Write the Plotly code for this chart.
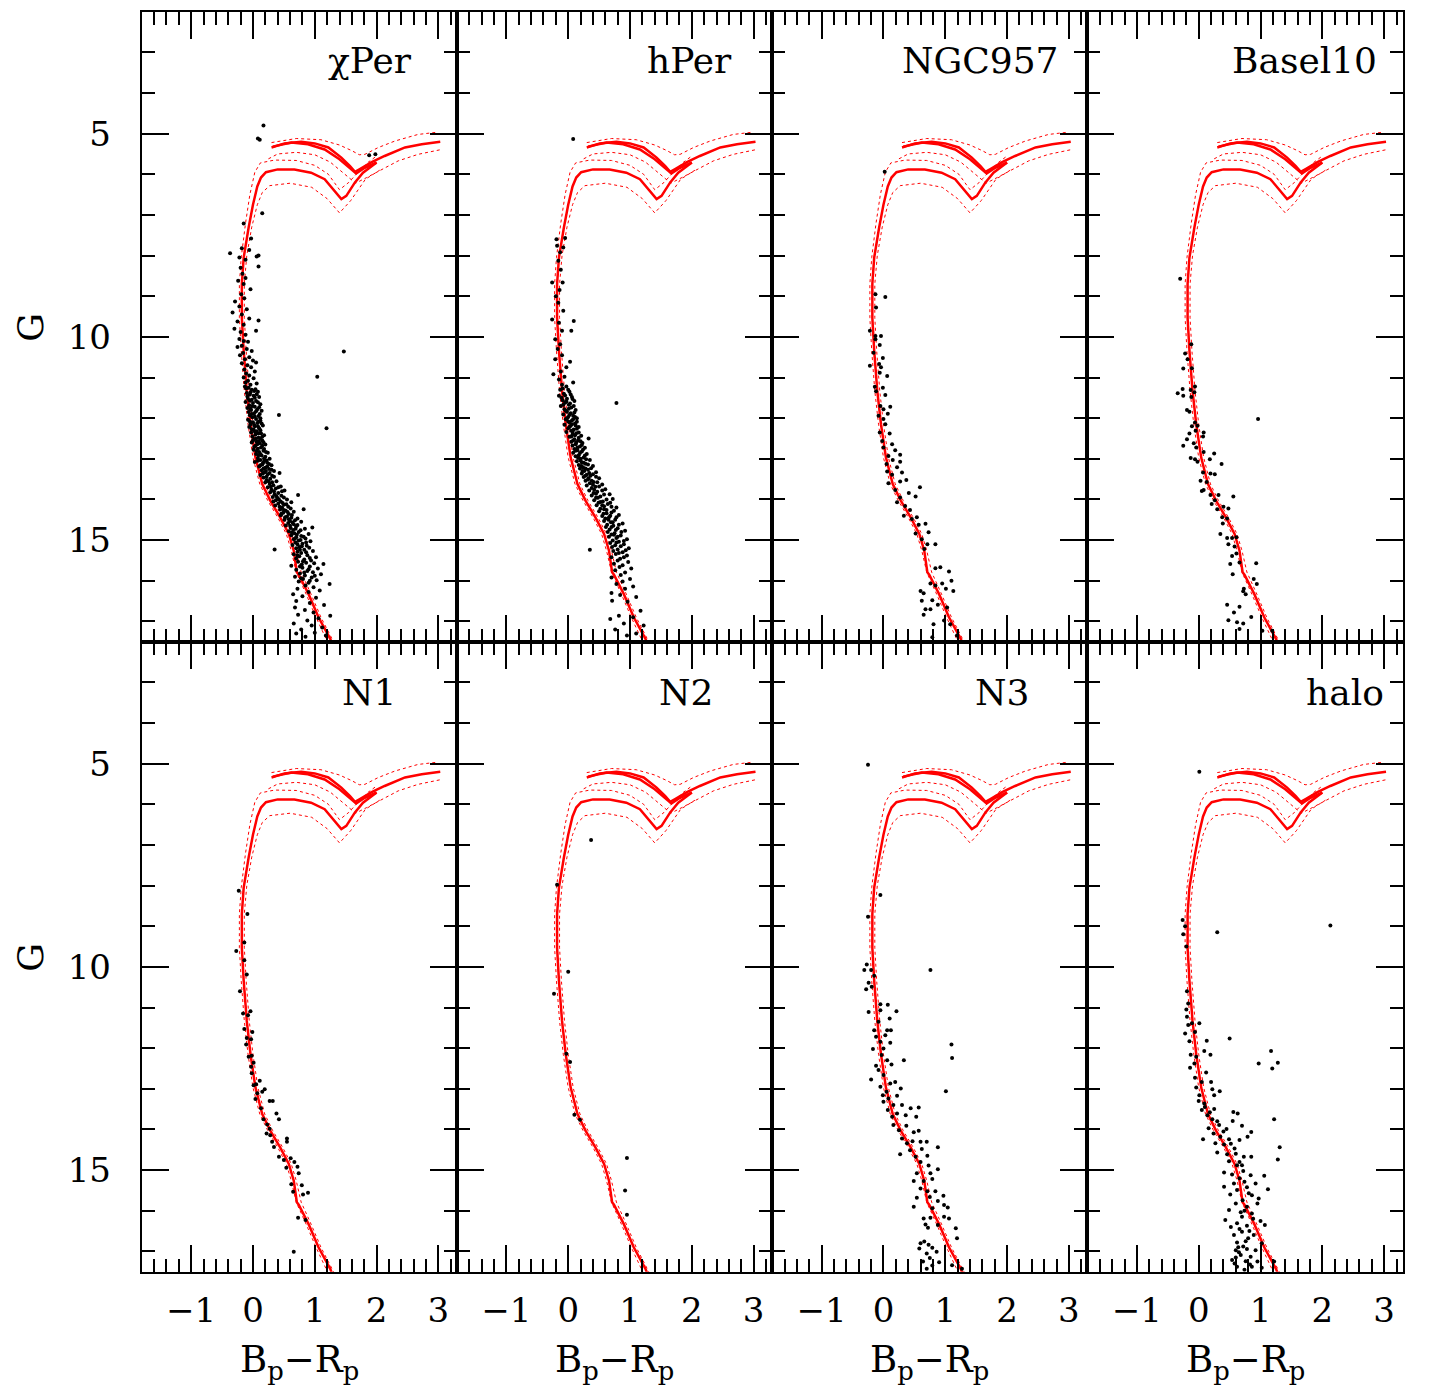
import plotly.graph_objects as go

# ---------------- DATA ----------------
panel_names = ["χPer", "hPer", "NGC957", "Basel10", "N1", "N2", "N3", "halo"]
label_right_x = [2.60, 2.68, 2.87, 2.91, 2.34, 2.37, 2.38, 3.03]
label_y = [3.2, 3.2, 3.2, 3.2, 3.25, 3.25, 3.25, 3.25]

# Isochrone (solid): main sequence + lower loop
iso_a_x = [1.28, 1.25, 1.06, 0.90, 0.74, 0.71, 0.66, 0.58, 0.44, 0.28, 0.15, 0.04, -0.04, -0.10, -0.15, -0.18,
           -0.18, -0.15, -0.07, 0.00, 0.07, 0.13, 0.21, 0.40, 0.67, 0.94, 1.16, 1.32, 1.43, 1.51, 1.65, 1.78, 1.92, 2.00]
iso_a_g = [17.55, 17.43, 16.90, 16.33, 15.85, 15.79, 15.26, 14.85, 14.44, 14.03, 13.62, 12.97, 12.15, 11.33, 10.34, 9.53,
           8.70, 8.05, 7.31, 6.75, 6.30, 6.08, 5.95, 5.88, 5.88, 5.96, 6.12, 6.41, 6.61, 6.53, 6.20, 5.96, 5.80, 5.71]
# Isochrone (solid): upper branch and its twin
iso_b_x = [0.30, 0.51, 0.78, 1.00, 1.22, 1.43, 1.57, 1.65, 1.73, 1.92, 2.13, 2.46, 2.73, 3.03]
iso_b_g = [5.34, 5.24, 5.20, 5.24, 5.34, 5.59, 5.80, 5.94, 5.87, 5.70, 5.55, 5.34, 5.26, 5.20]
iso_c_x = [0.32, 0.62, 0.89, 1.16, 1.40, 1.59, 1.67, 1.81, 2.00]
iso_c_g = [5.32, 5.22, 5.26, 5.39, 5.63, 5.87, 5.98, 5.84, 5.71]
# Isochrone envelopes (dashed)
dash_a_up_x = [1.22, 1.02, 0.86, 0.70, 0.62, 0.54, 0.40, 0.24, 0.11, 0.00, -0.08, -0.14, -0.19, -0.22, -0.22, -0.19,
               -0.12, -0.05, 0.03, 0.12, 0.35, 0.70, 1.00, 1.22, 1.40, 1.55, 1.70, 1.85, 2.00]
dash_a_up_g = [17.55, 16.90, 16.33, 15.79, 15.26, 14.85, 14.44, 14.03, 13.62, 12.97, 12.15, 11.33, 10.34, 9.53, 8.70, 8.05,
               7.20, 6.50, 5.95, 5.72, 5.65, 5.66, 5.78, 6.00, 6.38, 6.20, 5.95, 5.72, 5.55]
dash_a_lo_x = [1.32, 1.10, 0.94, 0.78, 0.70, 0.62, 0.48, 0.32, 0.19, 0.08, 0.00, -0.06, -0.11, -0.14, -0.14, -0.10,
               -0.02, 0.07, 0.15, 0.27, 0.60, 0.95, 1.20, 1.40, 1.58, 1.82, 2.05]
dash_a_lo_g = [17.55, 16.90, 16.33, 15.79, 15.26, 14.85, 14.44, 14.03, 13.62, 12.97, 12.15, 11.33, 10.34, 9.53, 8.70, 8.00,
               7.30, 6.75, 6.45, 6.28, 6.22, 6.32, 6.60, 6.95, 6.65, 6.12, 5.90]
dash_b_lo_x = [0.25, 0.40, 0.70, 1.00, 1.25, 1.48, 1.66, 1.84, 2.03, 2.35, 2.67, 3.05]
dash_b_lo_g = [5.62, 5.50, 5.46, 5.52, 5.70, 6.00, 6.22, 6.08, 5.92, 5.67, 5.51, 5.39]
dash_b_up_x = [0.30, 0.70, 1.10, 1.40, 1.60, 1.72, 1.81, 2.03, 2.30, 2.67, 2.95]
dash_b_up_g = [5.22, 5.12, 5.15, 5.28, 5.42, 5.52, 5.51, 5.34, 5.18, 5.02, 4.97]

chiper_stars = [
    (0.17, 4.80), (0.08, 5.12), (0.11, 5.15), (1.88, 5.53), (1.98, 5.51), (0.15, 6.96), (-0.15, 7.21), (-0.03, 7.58),
    (-0.37, 7.94), (-0.18, 7.82), (-0.06, 7.86), (0.06, 8.02), (0.09, 8.00), (-0.22, 8.05), (-0.12, 8.10),
    (-0.20, 8.30), (-0.17, 8.45), (-0.12, 8.55), (0.09, 8.27), (-0.24, 8.62), (-0.15, 8.70), (-0.04, 8.83), (-0.19, 8.95),
    (-0.29, 9.13), (-0.14, 9.05), (-0.22, 9.25), (-0.10, 9.32), (-0.33, 9.40), (-0.18, 9.45), (-0.06, 9.55), (0.09, 9.60),
    (-0.25, 9.62), (-0.15, 9.70), (0.05, 9.85), (-0.20, 9.88), (-0.12, 9.95), (-0.30, 9.80),
    (-0.22, 10.05), (-0.15, 10.10), (-0.08, 10.12), (-0.18, 10.22), (-0.25, 10.25), (-0.10, 10.30), (-0.02, 10.35),
    (1.47, 10.36), (-0.16, 10.40), (-0.21, 10.45), (-0.06, 10.50), (-0.13, 10.55), (0.00, 10.58), (0.05, 10.63),
    (-0.18, 10.65), (-0.09, 10.70), (-0.03, 10.75), (-0.14, 10.80), (0.03, 10.85), (-0.11, 10.90), (-0.06, 10.95),
    (1.04, 10.98), (-0.15, 11.00), (0.01, 11.02), (-0.08, 11.08), (-0.12, 11.12), (0.06, 11.15), (-0.04, 11.18),
    (-0.13, 11.22), (-0.07, 11.25), (0.04, 11.29), (-0.02, 11.30), (0.08, 11.35), (-0.10, 11.38), (-0.05, 11.42),
    (0.01, 11.45), (0.10, 11.48), (-0.08, 11.52), (-0.02, 11.55), (0.05, 11.58), (-0.12, 11.60), (0.00, 11.63),
    (0.12, 11.66), (-0.06, 11.68), (0.03, 11.72), (-0.09, 11.75), (0.07, 11.78), (-0.03, 11.80), (0.14, 11.82),
    (-0.07, 11.85), (0.02, 11.88), (0.42, 11.92), (-0.05, 11.93), (0.09, 11.95), (-0.01, 11.98), (0.05, 12.02),
    (-0.08, 12.04), (0.12, 12.06), (0.00, 12.10), (0.07, 12.12), (-0.04, 12.15), (0.16, 12.18), (0.03, 12.20),
    (-0.06, 12.22), (0.10, 12.25), (1.19, 12.25), (0.01, 12.28), (0.06, 12.32), (-0.03, 12.35), (0.13, 12.37),
    (0.04, 12.40), (0.18, 12.42), (-0.01, 12.45), (0.09, 12.48), (0.02, 12.52), (0.15, 12.55), (0.06, 12.58),
    (-0.02, 12.60), (0.11, 12.62), (0.20, 12.65), (0.04, 12.68), (0.13, 12.72), (0.08, 12.75), (0.01, 12.78),
    (0.17, 12.80), (0.10, 12.83), (0.24, 12.85), (0.05, 12.88), (0.14, 12.92), (0.20, 12.95), (0.08, 12.98),
    (0.27, 13.00), (0.12, 13.03), (0.18, 13.06), (0.03, 13.08), (0.23, 13.10), (0.15, 13.14), (0.30, 13.16),
    (0.10, 13.19), (0.20, 13.22), (0.26, 13.25), (0.14, 13.28), (0.34, 13.30), (0.43, 13.35), (0.19, 13.33),
    (0.24, 13.38), (0.12, 13.40), (0.31, 13.42), (0.17, 13.46), (0.28, 13.49), (0.22, 13.52), (0.38, 13.55),
    (0.20, 13.58), (0.27, 13.62), (0.33, 13.65), (0.45, 13.68), (0.24, 13.70), (0.37, 13.73), (0.30, 13.76),
    (0.51, 13.78), (0.28, 13.82), (0.41, 13.84), (0.35, 13.87), (0.73, 13.89), (0.46, 13.91), (0.32, 13.94),
    (0.40, 13.97), (0.55, 14.00), (0.37, 14.02), (0.45, 14.05), (0.62, 14.07), (0.41, 14.10), (0.50, 14.13),
    (0.36, 14.15), (0.57, 14.18), (0.47, 14.20), (0.82, 14.24), (0.44, 14.25), (0.53, 14.28), (0.66, 14.30),
    (0.49, 14.33), (0.58, 14.36), (0.45, 14.39), (0.55, 14.42), (0.62, 14.45), (0.72, 14.47), (0.51, 14.50),
    (0.60, 14.53), (0.78, 14.55), (0.57, 14.58), (0.66, 14.61), (0.96, 14.69), (0.53, 14.64), (0.70, 14.66),
    (0.61, 14.70), (0.84, 14.72), (0.65, 14.75), (0.58, 14.78), (0.74, 14.80), (0.67, 14.83), (0.90, 14.85),
    (0.62, 14.88), (0.78, 14.90), (0.70, 14.93), (0.85, 14.96), (0.66, 14.98), (0.74, 15.01), (0.93, 15.03),
    (0.69, 15.06), (0.80, 15.09), (0.64, 15.12), (0.87, 15.14), (0.75, 15.17), (0.35, 15.23), (0.70, 15.20),
    (0.83, 15.24), (0.97, 15.27), (0.72, 15.29), (0.78, 15.32), (0.66, 15.35), (0.88, 15.37), (0.75, 15.40),
    (1.02, 15.42), (0.70, 15.45), (0.83, 15.48), (0.94, 15.50), (0.73, 15.53), (1.14, 15.59), (0.86, 15.56),
    (0.79, 15.60), (0.62, 15.63), (0.92, 15.65), (0.80, 15.68), (1.05, 15.70), (0.70, 15.73), (0.88, 15.76),
    (0.97, 15.79), (0.76, 15.82), (1.10, 15.84), (0.84, 15.87), (0.68, 15.90), (0.95, 15.92), (0.81, 15.96),
    (1.03, 15.99), (0.74, 16.02), (1.24, 16.08), (0.90, 16.05), (0.85, 16.12), (0.98, 16.16), (0.72, 16.20),
    (1.08, 16.24), (0.90, 16.28), (0.65, 16.33), (0.80, 16.38), (1.02, 16.42), (0.70, 16.50), (0.92, 16.55),
    (1.15, 16.60), (0.68, 16.66), (0.84, 16.72), (0.98, 16.78), (1.25, 16.86), (0.73, 16.84), (1.06, 16.92),
    (0.88, 16.98), (0.66, 17.05), (0.95, 17.10), (1.12, 17.15), (0.78, 17.20), (0.70, 17.30), (1.00, 17.28),
    (0.85, 17.38), (1.18, 17.35),
    (-0.11, 11.27), (0.02, 11.33), (-0.04, 11.36), (0.06, 11.41), (-0.09, 11.47), (0.03, 11.50), (-0.05, 11.57),
    (0.08, 11.61), (-0.01, 11.70), (0.10, 11.73), (-0.04, 11.77), (0.05, 11.83), (0.11, 11.90), (-0.02, 11.90),
    (0.03, 11.96), (0.12, 12.00), (-0.05, 12.08), (0.09, 12.09), (0.14, 12.13), (0.02, 12.17), (0.08, 12.20),
    (-0.02, 12.27), (0.12, 12.30), (0.03, 12.33), (0.09, 12.38), (0.15, 12.46), (0.05, 12.50), (0.12, 12.50),
    (0.00, 12.55), (0.09, 12.57), (0.17, 12.59), (0.07, 12.64), (0.15, 12.68), (0.02, 12.71), (0.18, 12.76),
    (0.06, 12.81), (0.21, 12.83), (0.12, 12.88), (0.09, 12.91), (0.18, 12.99), (0.22, 13.04), (0.08, 13.05),
    (0.16, 13.11), (0.26, 13.13), (0.12, 13.16), (0.23, 13.19), (0.17, 13.24), (0.30, 13.27), (0.21, 13.30),
    (0.16, 13.36), (0.27, 13.35), (0.34, 13.44), (0.22, 13.44), (0.25, 13.55), (0.31, 13.58), (0.29, 13.69),
    (0.41, 13.70), (0.34, 13.80), (0.47, 13.80), (0.38, 13.92), (0.50, 13.95), (0.42, 14.00), (0.33, 14.05),
    (0.48, 14.09), (0.54, 14.12), (0.43, 14.18), (0.61, 14.22), (0.50, 14.26), (0.56, 14.31), (0.46, 14.35),
    (0.63, 14.38), (0.52, 14.44), (0.68, 14.51), (0.58, 14.49), (0.64, 14.57), (0.72, 14.63), (0.60, 14.65),
    (0.69, 14.72), (0.77, 14.76), (0.63, 14.82), (0.71, 14.87), (0.82, 14.92), (0.68, 14.96), (0.77, 15.00),
    (0.86, 15.06), (0.72, 15.10), (0.79, 15.15), (0.91, 15.19), (0.76, 15.24), (0.86, 15.30), (0.72, 15.38),
    (0.92, 15.44), (0.81, 15.52), (0.99, 15.57), (0.76, 15.65), (0.90, 15.72), (0.83, 15.80), (1.00, 15.88),
    (0.78, 15.94), (0.92, 16.00),
]

hper_stars = [
    (0.08, 5.13), (-0.19, 7.60), (-0.05, 7.57), (-0.18, 7.76), (-0.08, 7.80), (-0.13, 7.92), (-0.16, 8.13),
    (-0.12, 8.35), (-0.26, 8.66), (-0.09, 8.66), (-0.14, 8.85), (-0.20, 9.00), (-0.16, 9.16), (-0.08, 9.36),
    (-0.26, 9.57), (0.09, 9.61), (-0.15, 9.65), (0.05, 9.85), (-0.10, 9.85), (-0.21, 10.06), (-0.13, 10.18),
    (-0.17, 10.30), (-0.21, 10.55), (-0.10, 10.45), (0.03, 10.61), (-0.03, 10.75), (-0.24, 10.92), (-0.12, 10.85),
    (-0.06, 10.98), (0.08, 11.12), (-0.15, 11.05), (-0.10, 11.18), (-0.03, 11.22), (-0.13, 11.30), (0.02, 11.35),
    (-0.07, 11.40), (-0.15, 11.45), (0.06, 11.48), (-0.02, 11.52), (-0.09, 11.56), (0.10, 11.58), (0.78, 11.63),
    (-0.05, 11.62), (0.01, 11.67), (-0.12, 11.70), (0.05, 11.74), (-0.06, 11.78), (0.12, 11.80), (-0.02, 11.84),
    (0.04, 11.88), (-0.08, 11.91), (0.08, 11.94), (0.00, 11.97), (0.14, 12.00), (-0.04, 12.03), (0.06, 12.06),
    (0.02, 12.10), (0.11, 12.13), (-0.06, 12.16), (0.04, 12.19), (0.17, 12.22), (0.00, 12.25), (0.09, 12.28),
    (0.05, 12.31), (-0.03, 12.34), (0.13, 12.37), (0.07, 12.40), (0.21, 12.43), (0.02, 12.46), (0.33, 12.50),
    (0.10, 12.52), (0.16, 12.55), (0.05, 12.58), (0.23, 12.61), (0.12, 12.64), (0.07, 12.67), (0.19, 12.70),
    (0.27, 12.73), (0.10, 12.76), (0.15, 12.79), (0.22, 12.82), (0.08, 12.85), (0.30, 12.88), (0.17, 12.91),
    (0.12, 12.94), (0.25, 12.97), (0.20, 13.00), (0.35, 13.03), (0.14, 13.06), (0.22, 13.09), (0.28, 13.12),
    (0.17, 13.15), (0.40, 13.18), (0.24, 13.21), (0.19, 13.24), (0.32, 13.27), (0.26, 13.30), (0.45, 13.33),
    (0.22, 13.36), (0.30, 13.39), (0.36, 13.42), (0.25, 13.45), (0.50, 13.48), (0.32, 13.51), (0.28, 13.54),
    (0.41, 13.57), (0.35, 13.60), (0.55, 13.63), (0.30, 13.66), (0.44, 13.69), (0.38, 13.72), (0.60, 13.75),
    (0.34, 13.78), (0.47, 13.81), (0.41, 13.84), (0.67, 13.87), (0.38, 13.90), (0.52, 13.93), (0.45, 13.96),
    (0.72, 13.99), (0.42, 14.02), (0.56, 14.05), (0.49, 14.08), (0.64, 14.11), (0.46, 14.14), (0.58, 14.17),
    (0.78, 14.20), (0.52, 14.23), (0.62, 14.26), (0.50, 14.29), (0.70, 14.32), (0.57, 14.35), (0.82, 14.38),
    (0.55, 14.41), (0.66, 14.44), (0.60, 14.47), (0.76, 14.50), (0.58, 14.53), (0.69, 14.56), (0.88, 14.59),
    (0.63, 14.62), (0.73, 14.65), (0.61, 14.68), (0.80, 14.71), (0.67, 14.74), (0.92, 14.77), (0.64, 14.80),
    (0.75, 14.83), (0.70, 14.86), (0.85, 14.89), (0.66, 14.92), (0.78, 14.95), (0.95, 14.98), (0.72, 15.01),
    (0.82, 15.04), (0.68, 15.07), (0.90, 15.10), (0.76, 15.13), (0.71, 15.17), (0.98, 15.20), (0.35, 15.24),
    (0.80, 15.23), (0.73, 15.27), (0.88, 15.30), (0.77, 15.34), (0.95, 15.38), (0.70, 15.42), (0.84, 15.46),
    (0.80, 15.50), (0.97, 15.54), (0.74, 15.58), (0.88, 15.62), (0.83, 15.66), (1.02, 15.70), (0.76, 15.74),
    (0.92, 15.80), (0.85, 15.86), (0.70, 15.92), (1.00, 15.96), (0.88, 16.02), (0.78, 16.08), (1.05, 16.14),
    (0.92, 16.20), (0.70, 16.30), (0.84, 16.35), (1.10, 16.40), (0.71, 16.49), (0.96, 16.52), (1.17, 16.74),
    (0.82, 16.86), (0.68, 16.94), (1.05, 16.90), (0.90, 17.05), (1.22, 17.10), (0.76, 17.20), (1.10, 17.30),
    (0.95, 17.35),
    (-0.09, 11.27), (0.00, 11.30), (-0.05, 11.44), (0.04, 11.42), (-0.11, 11.50), (0.07, 11.53), (-0.03, 11.59),
    (0.03, 11.64), (-0.08, 11.67), (0.09, 11.70), (0.01, 11.77), (-0.04, 11.82), (0.10, 11.86), (0.02, 11.92),
    (0.11, 11.97), (-0.02, 12.00), (0.08, 12.03), (0.00, 12.08), (0.14, 12.09), (0.06, 12.15), (0.12, 12.18),
    (0.02, 12.22), (0.14, 12.26), (0.07, 12.33), (0.17, 12.35), (0.11, 12.42), (0.05, 12.45), (0.17, 12.48),
    (0.08, 12.55), (0.20, 12.57), (0.13, 12.60), (0.22, 12.66), (0.15, 12.72), (0.24, 12.77), (0.12, 12.80),
    (0.19, 12.86), (0.27, 12.92), (0.16, 12.98), (0.29, 13.01), (0.20, 13.04), (0.25, 13.10), (0.32, 13.14),
    (0.21, 13.18), (0.28, 13.24), (0.37, 13.23), (0.23, 13.30), (0.34, 13.35), (0.40, 13.38), (0.28, 13.42),
    (0.45, 13.44), (0.33, 13.48), (0.38, 13.54), (0.47, 13.58), (0.40, 13.64), (0.50, 13.68), (0.42, 13.76),
    (0.55, 13.78), (0.45, 13.86), (0.58, 13.88), (0.48, 13.96), (0.62, 14.00), (0.52, 14.06), (0.68, 14.08),
    (0.55, 14.14), (0.70, 14.18), (0.58, 14.24), (0.74, 14.28), (0.62, 14.34), (0.68, 14.40), (0.78, 14.44),
    (0.65, 14.50), (0.72, 14.56), (0.82, 14.62), (0.70, 14.68), (0.77, 14.75), (0.86, 14.80), (0.74, 14.87),
    (0.80, 14.92), (0.90, 15.02), (0.78, 15.06), (0.85, 15.15), (0.93, 15.25), (0.82, 15.32), (0.90, 15.42),
]

ngc957_stars = [
    (0.02, 5.94), (-0.13, 8.95), (0.03, 9.02), (-0.12, 9.28), (-0.22, 9.85), (-0.13, 9.98), (-0.04, 9.98),
    (-0.13, 10.06), (-0.06, 10.20), (-0.16, 10.39), (-0.01, 10.52), (-0.07, 10.67), (-0.22, 10.71), (-0.04, 10.75),
    (0.06, 10.96), (-0.06, 10.88), (-0.14, 11.23), (-0.01, 11.25), (-0.12, 11.34), (0.03, 11.43), (-0.05, 11.70),
    (0.11, 11.72), (0.00, 11.78), (-0.08, 11.94), (0.07, 11.89), (0.00, 12.02), (0.03, 12.15), (-0.06, 12.35),
    (0.10, 12.38), (-0.02, 12.56), (0.14, 12.64), (0.00, 12.72), (0.19, 12.79), (0.27, 12.90), (0.08, 12.93),
    (0.05, 13.13), (0.15, 13.03), (0.27, 13.07), (0.22, 13.21), (0.06, 13.31), (0.30, 13.34), (0.14, 13.39),
    (0.37, 13.52), (0.27, 13.56), (0.08, 13.60), (0.19, 13.77), (0.59, 13.70), (0.41, 13.84), (0.52, 13.93),
    (0.27, 13.95), (0.22, 14.07), (0.35, 14.16), (0.43, 14.26), (0.33, 14.40), (0.54, 14.44), (0.46, 14.48),
    (0.57, 14.62), (0.68, 14.60), (0.52, 14.84), (0.73, 14.81), (0.62, 14.98), (0.71, 15.10), (0.66, 15.22),
    (0.84, 15.10), (0.84, 15.69), (0.92, 15.67), (1.06, 15.77), (0.76, 16.07), (0.95, 16.07), (0.84, 16.12),
    (1.10, 16.00), (1.01, 16.20), (0.60, 16.25), (1.13, 16.25), (0.65, 16.31), (0.62, 16.49), (0.79, 16.48),
    (0.88, 16.59), (0.68, 16.70), (0.65, 16.84), (0.76, 16.70), (1.03, 16.66), (0.98, 16.98), (0.81, 17.07),
    (0.79, 17.39), (1.08, 17.07), (1.19, 17.35),
]

basel10_stars = [
    (-0.30, 8.57), (-0.12, 10.18), (-0.22, 10.41), (-0.18, 10.55), (-0.25, 10.78), (-0.11, 10.77), (-0.06, 11.22),
    (-0.26, 11.28), (-0.13, 11.31), (-0.34, 11.39), (-0.07, 11.36), (-0.25, 11.45), (-0.12, 11.48), (-0.19, 11.80),
    (-0.15, 11.84), (0.96, 12.02), (-0.06, 12.11), (-0.02, 12.19), (-0.11, 12.20), (-0.05, 12.31), (0.08, 12.35),
    (-0.15, 12.38), (-0.19, 12.52), (0.07, 12.45), (-0.08, 12.62), (-0.25, 12.68), (-0.04, 12.72), (0.25, 12.87),
    (0.08, 12.83), (-0.13, 12.98), (-0.06, 13.01), (0.18, 13.01), (-0.02, 13.07), (0.37, 13.13), (0.07, 13.34),
    (0.19, 13.36), (0.26, 13.38), (0.03, 13.54), (0.13, 13.57), (0.08, 13.77), (0.05, 13.79), (0.19, 13.89),
    (0.32, 13.89), (0.26, 14.02), (0.21, 14.11), (0.56, 13.93), (0.40, 14.18), (0.30, 14.24), (0.48, 14.22),
    (0.38, 14.44), (0.46, 14.47), (0.39, 14.59), (0.35, 14.85), (0.46, 14.95), (0.54, 14.95), (0.61, 14.93),
    (0.48, 15.10), (0.58, 15.16), (0.54, 15.39), (0.61, 15.33), (0.66, 15.55), (0.51, 15.59), (0.93, 15.57),
    (0.55, 15.84), (0.89, 15.96), (0.94, 16.08), (0.73, 16.20), (0.76, 16.33), (0.72, 16.26), (0.46, 16.59),
    (0.66, 16.64), (0.57, 16.78), (0.85, 16.89), (0.48, 16.97), (0.62, 17.02), (0.72, 17.05), (0.66, 17.19),
    (1.19, 17.23), (1.03, 17.23),
]

n1_stars = [
    (-0.23, 8.13), (-0.09, 8.70), (-0.14, 9.40), (-0.27, 9.61), (-0.14, 9.84), (-0.10, 10.19), (-0.21, 10.60),
    (-0.04, 11.09), (-0.16, 11.15), (-0.08, 11.19), (-0.14, 11.53), (-0.01, 11.60), (-0.10, 11.75), (-0.03, 11.78),
    (-0.11, 11.91), (-0.07, 12.21), (-0.02, 12.19), (0.01, 12.36), (-0.03, 12.46), (-0.02, 12.62), (0.11, 12.80),
    (0.05, 12.89), (0.01, 12.91), (0.19, 13.01), (0.15, 13.07), (0.07, 13.11), (0.27, 13.30), (0.32, 13.30),
    (0.04, 13.25), (0.13, 13.48), (0.17, 13.75), (0.23, 13.88), (0.27, 13.98), (0.38, 13.61), (0.42, 13.75),
    (0.22, 14.10), (0.28, 14.14), (0.31, 14.30), (0.34, 14.43), (0.55, 14.22), (0.55, 14.30), (0.42, 14.67),
    (0.50, 14.75), (0.61, 14.71), (0.67, 14.80), (0.72, 14.92), (0.54, 14.94), (0.74, 15.08), (0.62, 15.35),
    (0.79, 15.37), (0.65, 15.53), (0.89, 15.56), (0.81, 15.60), (0.73, 16.17), (0.85, 16.23), (0.66, 17.01),
]

n2_stars = [
    (0.37, 6.88), (-0.18, 7.98), (0.00, 10.12), (-0.23, 10.66), (-0.03, 12.14), (0.03, 12.34), (0.10, 13.64),
    (0.19, 13.76), (0.95, 14.70), (0.92, 15.50), (0.95, 16.10),
]

n3_stars = [
    (-0.25, 5.03), (-0.05, 8.23), (-0.25, 8.77), (-0.27, 9.94), (-0.31, 10.08), (-0.20, 10.08), (-0.15, 10.22),
    (0.76, 10.08), (-0.24, 10.39), (-0.19, 10.49), (-0.28, 10.55), (-0.05, 10.92), (0.07, 10.93), (-0.24, 11.11),
    (-0.05, 11.07), (0.21, 11.09), (-0.08, 11.35), (0.10, 11.27), (-0.15, 11.56), (0.06, 11.56), (0.12, 11.56),
    (-0.12, 11.72), (0.03, 11.68), (-0.05, 11.84), (0.11, 11.87), (-0.17, 12.02), (0.00, 12.01), (1.10, 11.91),
    (1.11, 12.24), (-0.03, 12.17), (0.06, 12.30), (0.33, 12.30), (-0.12, 12.43), (0.13, 12.40), (-0.08, 12.54),
    (-0.20, 12.77), (0.00, 12.66), (0.11, 12.87), (0.19, 12.83), (-0.05, 12.95), (0.28, 12.99), (1.01, 13.06),
    (0.05, 13.07), (-0.01, 13.16), (0.22, 13.17), (0.08, 13.24), (0.00, 13.32), (0.16, 13.40), (0.30, 13.40),
    (0.44, 13.48), (0.57, 13.46), (0.07, 13.52), (0.22, 13.61), (0.14, 13.69), (0.53, 13.69), (0.36, 13.65),
    (0.16, 13.89), (0.37, 13.91), (0.25, 14.02), (0.49, 14.07), (0.57, 14.03), (0.30, 14.22), (0.47, 14.29),
    (0.60, 14.30), (0.70, 14.30), (0.38, 14.34), (0.27, 14.61), (0.43, 14.51), (0.88, 14.44), (0.62, 14.48),
    (0.52, 14.67), (0.71, 14.65), (0.60, 14.80), (0.73, 14.89), (0.88, 14.98), (0.54, 15.08), (0.76, 15.08),
    (0.49, 15.27), (0.65, 15.27), (0.79, 15.22), (0.60, 15.45), (0.71, 15.52), (0.84, 15.52), (0.54, 15.68),
    (0.75, 15.66), (0.97, 15.63), (0.88, 15.76), (0.98, 15.86), (0.49, 15.90), (0.79, 15.94), (1.04, 15.92),
    (0.65, 16.19), (0.76, 16.17), (0.98, 16.15), (1.06, 16.19), (0.68, 16.34), (0.72, 16.42), (0.88, 16.35),
    (1.17, 16.43), (1.19, 16.68), (0.60, 16.80), (0.66, 16.76), (0.73, 16.84), (0.79, 16.91), (0.58, 16.93),
    (0.86, 17.01), (0.70, 17.05), (0.75, 17.16), (0.64, 17.25), (0.90, 17.27), (0.79, 17.35), (1.11, 17.34),
    (0.70, 17.43), (1.27, 17.43),
]

halo_stars = [
    (0.01, 5.20), (-0.26, 8.85), (-0.22, 9.00), (-0.25, 9.20), (0.30, 9.15), (2.13, 8.98), (-0.20, 9.50),
    (-0.19, 10.60), (-0.17, 10.90), (-0.20, 11.05), (-0.19, 11.23), (-0.17, 11.43), (-0.11, 11.39), (0.01, 11.39),
    (-0.22, 11.64), (-0.06, 11.60), (-0.15, 11.83), (0.13, 11.82), (0.50, 11.76), (1.17, 12.07), (0.97, 12.38),
    (1.28, 12.36), (1.19, 12.50), (-0.13, 12.16), (-0.04, 12.21), (0.09, 12.07), (0.19, 12.16), (-0.07, 12.38),
    (-0.14, 12.48), (0.12, 12.60), (-0.06, 12.73), (0.05, 12.83), (0.20, 12.83), (-0.04, 12.97), (0.22, 13.01),
    (0.34, 13.06), (0.01, 13.16), (0.25, 13.16), (0.00, 13.30), (0.09, 13.36), (0.25, 13.50), (0.05, 13.52),
    (0.56, 13.57), (0.63, 13.61), (0.14, 13.65), (1.22, 13.75), (0.22, 13.75), (0.33, 13.89), (0.55, 13.79),
    (0.70, 13.91), (0.16, 13.97), (0.45, 13.99), (0.85, 14.06), (0.24, 14.10), (0.35, 14.18), (0.79, 14.18),
    (0.07, 14.24), (0.49, 14.24), (0.66, 14.26), (0.27, 14.34), (0.41, 14.37), (1.31, 14.44), (0.58, 14.47),
    (0.30, 14.57), (0.46, 14.61), (1.28, 14.74), (0.73, 14.67), (0.85, 14.67), (0.49, 14.78), (0.62, 14.88),
    (0.70, 14.88), (0.41, 15.06), (0.54, 15.11), (0.84, 15.13), (1.06, 15.14), (0.74, 15.29), (0.57, 15.33),
    (0.92, 15.33), (0.41, 15.41), (1.12, 15.47), (0.62, 15.49), (0.81, 15.57), (0.51, 15.60), (0.97, 15.70),
    (0.71, 15.74), (0.60, 15.82), (0.78, 15.90), (0.95, 15.82), (0.49, 15.98), (0.68, 16.04), (0.86, 16.07),
    (0.43, 16.23), (1.00, 16.25), (0.62, 16.31), (0.78, 16.37), (1.07, 16.35), (0.70, 16.52), (0.57, 16.60),
    (0.89, 16.60), (0.76, 16.75), (0.62, 16.78), (1.02, 16.80), (0.60, 16.97), (0.78, 16.94), (0.92, 16.97),
    (0.68, 17.09), (0.84, 17.13), (0.54, 17.21), (0.76, 17.24), (0.95, 17.25), (0.62, 17.38), (0.86, 17.38),
    (1.22, 17.25), (1.02, 17.40), (0.66, 16.45), (0.72, 16.88), (0.58, 17.30), (0.80, 16.68), (0.65, 17.02),
    (0.74, 17.45), (0.88, 16.20), (0.52, 16.40), (0.70, 16.15), (0.83, 17.32), (0.60, 17.15),
    (0.10, 13.45), (0.18, 13.58), (0.30, 13.80), (0.40, 14.05), (0.52, 14.35), (0.60, 14.60), (0.66, 14.80),
    (0.72, 15.02), (0.66, 15.20), (0.78, 15.42), (0.86, 15.62), (0.74, 16.00), (0.82, 16.50), (0.64, 16.90),
]

all_stars = [chiper_stars, hper_stars, ngc957_stars, basel10_stars, n1_stars, n2_stars, n3_stars, halo_stars]

# ---------------- FIGURE ----------------
# page body has an 8px margin: the figure is laid out in page coords minus 8px
W, H = 1413, 1379
OFF = 8.0
left0, pw = 141.7 - OFF, 315.25
top0, ph = 11.7 - OFF, 630.0
FONT = "DejaVu Serif"
RED = "#ff0000"

fig = go.Figure()
layout = dict(width=W, height=H, margin=dict(l=0, r=0, t=0, b=0),
              paper_bgcolor="white", plot_bgcolor="white", showlegend=False,
              font=dict(family=FONT, color="black"))
annotations = []

iso_solid = [(iso_a_x, iso_a_g), (iso_b_x, iso_b_g), (iso_c_x, iso_c_g)]
iso_dash = [(dash_a_up_x, dash_a_up_g), (dash_a_lo_x, dash_a_lo_g),
            (dash_b_lo_x, dash_b_lo_g), (dash_b_up_x, dash_b_up_g)]

for i in range(8):
    r, c = divmod(i, 4)
    sfx = "" if i == 0 else str(i + 1)
    xa, ya = "x" + sfx, "y" + sfx
    xd = [(left0 + c * pw) / W, (left0 + (c + 1) * pw) / W]
    yd = [1 - (top0 + (r + 1) * ph) / H, 1 - (top0 + r * ph) / H]
    common = dict(showgrid=False, zeroline=False, showline=True, linecolor="black", linewidth=2,
                  mirror="allticks", ticks="inside", tickcolor="black", tickwidth=2, ticklen=27,
                  tickfont=dict(family=FONT, size=34, color="black"))
    layout["xaxis" + sfx] = dict(common, domain=xd, anchor=ya, range=[-1.8, 3.3], tick0=0, dtick=1,
                                 showticklabels=(r == 1), ticklabelstandoff=7,
                                 minor=dict(ticks="inside", dtick=0.2, tick0=0, ticklen=13,
                                            tickwidth=2, tickcolor="black"))
    layout["yaxis" + sfx] = dict(common, domain=yd, anchor=xa, range=[17.5, 2.0], tick0=0, dtick=5,
                                 showticklabels=(c == 0), ticklabelstandoff=22,
                                 minor=dict(ticks="inside", dtick=1, tick0=0, ticklen=13,
                                            tickwidth=2, tickcolor="black"))
    for dx, dg in iso_dash:
        fig.add_trace(go.Scatter(x=dx, y=dg, mode="lines", xaxis=xa, yaxis=ya,
                                 line=dict(color=RED, width=1, dash="3px,3px"), hoverinfo="skip"))
    for sx, sg in iso_solid:
        fig.add_trace(go.Scatter(x=sx, y=sg, mode="lines", xaxis=xa, yaxis=ya,
                                 line=dict(color=RED, width=2.5), hoverinfo="skip"))
    stars = all_stars[i]
    fig.add_trace(go.Scatter(x=[s[0] for s in stars], y=[s[1] for s in stars], mode="markers",
                             xaxis=xa, yaxis=ya, marker=dict(color="black", size=4, line=dict(width=0))))
    annotations.append(dict(text=panel_names[i], x=label_right_x[i], y=label_y[i], xref=xa, yref=ya,
                            xanchor="right", yanchor="middle", showarrow=False,
                            font=dict(family=FONT, size=36, color="black")))
    if r == 1:
        annotations.append(dict(text="B<sub>p</sub>\u2212R<sub>p</sub>", x=(xd[0] + xd[1]) / 2,
                                y=1 - (1362 - OFF) / H, xref="paper", yref="paper", showarrow=False,
                                xanchor="center", yanchor="middle",
                                font=dict(family=FONT, size=37, color="black")))
    if c == 0:
        annotations.append(dict(text="G", x=(31 - OFF) / W, y=(yd[0] + yd[1]) / 2, xref="paper", yref="paper",
                                textangle=-90, showarrow=False, xanchor="center", yanchor="middle",
                                borderpad=0, font=dict(family=FONT, size=36, color="black")))

layout["annotations"] = annotations
fig.update_layout(**layout)
fig.write_html("out.html")
